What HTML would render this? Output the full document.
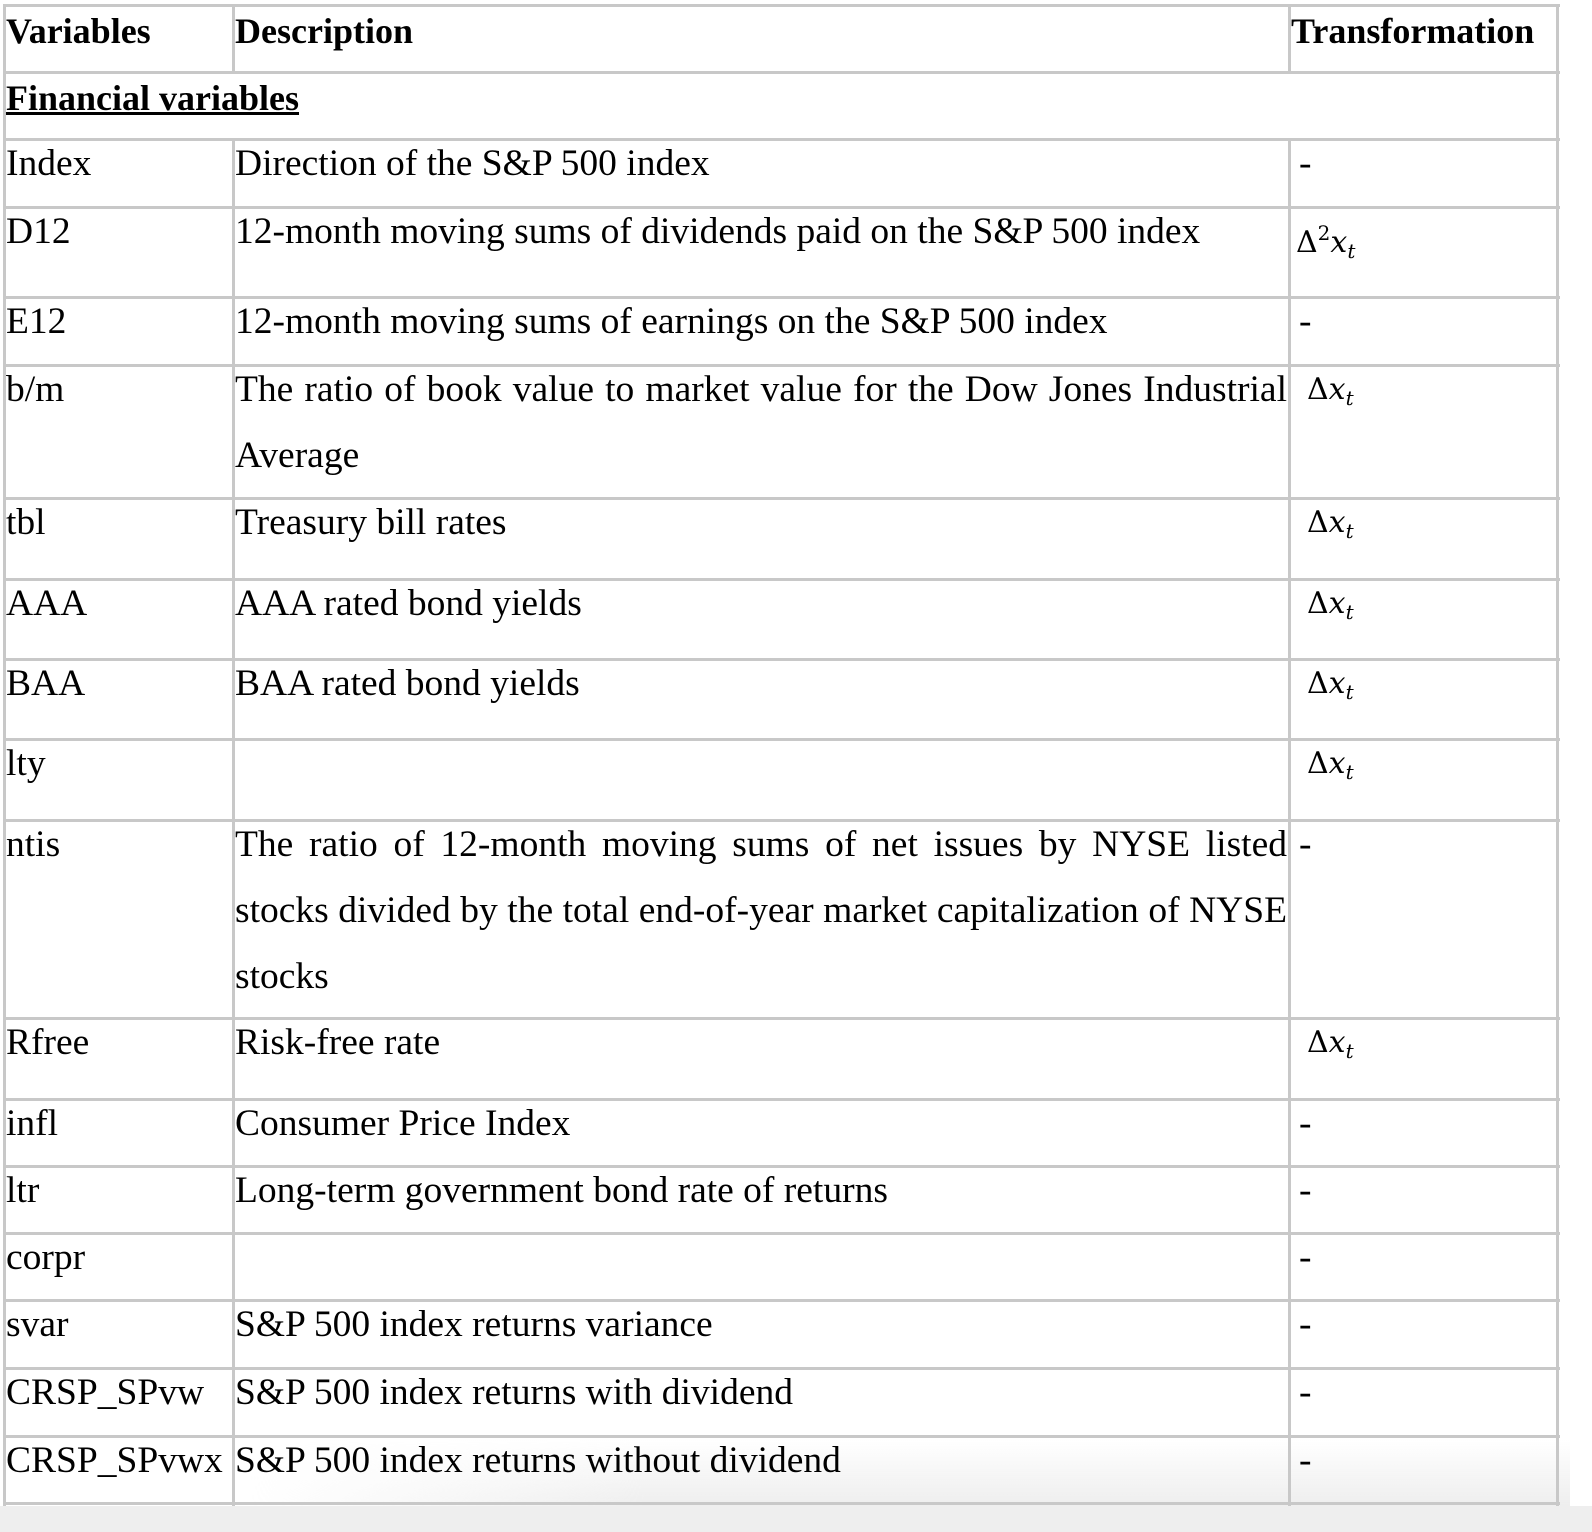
<!DOCTYPE html>
<html><head><meta charset="utf-8">
<style>
html,body{margin:0;padding:0;background:#fff;}
#page{position:relative;width:1592px;height:1532px;overflow:hidden;background:#fff;font-family:"Liberation Serif","Times New Roman",serif;color:#000;}
.h{position:absolute;height:3px;background:#c8c8c8;}
.v{position:absolute;width:3px;background:#c8c8c8;}
.t{position:absolute;font-size:37.5px;line-height:66px;white-space:nowrap;}
.b{font-weight:bold;font-size:36px;}
.jl{text-align:justify;text-align-last:justify;white-space:nowrap;}
.m{position:absolute;font-size:30px;line-height:40px;white-space:nowrap;font-family:"DejaVu Serif","Liberation Serif",serif;}
.m i{font-style:italic;}
.m sub{font-size:20px;vertical-align:-6px;font-style:italic;}
.m sup{font-size:20px;vertical-align:12px;}
.shade{position:absolute;left:0;top:1506px;width:1592px;height:26px;background:#eeeeee;}
.glow{position:absolute;left:250px;top:1440px;width:1320px;height:66px;background:linear-gradient(180deg,rgba(245,245,245,0),rgba(236,236,236,0.9));-webkit-mask-image:linear-gradient(90deg,transparent,#000 30%);mask-image:linear-gradient(90deg,transparent,#000 30%);}
</style></head>
<body>
<div id="page">
<div class="glow"></div>
<div class="shade"></div>
<div id="grid"></div>
<div id="cells"></div>
</div>
<script>
const rowsTop=[5,72,139,207,297,365,498,579,659,739,820,1018,1099,1166,1233,1300,1368,1436,1503];
const colX=[4,233,1289,1557];
const grid=document.getElementById('grid');
rowsTop.forEach((y,i)=>{
  const d=document.createElement('div');
  d.className='h';
  
  
  d.style.left='4px';d.style.width='1556px';d.style.top=(y-1)+'px';
  grid.appendChild(d);
});
colX.forEach((x,i)=>{
  const d=document.createElement('div');
  d.className='v';
  
  
  d.style.left=(x-1)+'px';d.style.top='4px';d.style.height='1502px';
  if(i===1||i===2){
    const d2=document.createElement('div');
    d2.className='v';
    
    
    d2.style.left=(x-1)+'px';d2.style.top='4px';d2.style.height='68px';
    grid.appendChild(d2);
    d.style.top='138px';d.style.height='1368px';
  }
  grid.appendChild(d);
});
const vars=["Index","D12","E12","b/m","tbl","AAA","BAA","lty","ntis","Rfree","infl","ltr","corpr","svar","CRSP_SPvw","CRSP_SPvwx"];
const descs=[["Direction of the S&P 500 index"],["12-month moving sums of dividends paid on the S&P 500 index"],["12-month moving sums of earnings on the S&P 500 index"],["The ratio of book value to market value for the Dow Jones Industrial","Average"],["Treasury bill rates"],["AAA rated bond yields"],["BAA rated bond yields"],[""],["The ratio of 12-month moving sums of net issues by NYSE listed","stocks divided by the total end-of-year market capitalization of NYSE","stocks"],["Risk-free rate"],["Consumer Price Index"],["Long-term government bond rate of returns"],[""],["S&P 500 index returns variance"],["S&P 500 index returns with dividend"],["S&P 500 index returns without dividend"]];
const trans=["-","d2","-","d","d","d","d","d","-","d","-","-","-","-","-","-"];
const cells=document.getElementById('cells');
function txt(cls,x,y,w,html,name){
  const e=document.createElement('div');
  e.className=cls;
  e.style.left=x+'px';e.style.top=y+'px';
  if(w)e.style.width=w+'px';
  e.innerHTML=html;
  
  
  cells.appendChild(e);
  return e;
}
txt('t b',6,-2,null,'Variables','header-variables');
txt('t b',235,-2,null,'Description','header-description');
txt('t b',1291,-2,null,'Transformation','header-transformation');
txt('t b',6,65,null,'<u>Financial variables</u>','section-financial-variables');
vars.forEach((v,i)=>{
  const top=rowsTop[i+2];
  txt('t',6,top-8,null,v,'variable-name');
  const lines=descs[i];
  lines.forEach((ln,k)=>{
    const dsc=ln.replace(/&/g,'&amp;');
    const last=(k===lines.length-1);
    const e=txt(last?'t':'t jl',235,top-8+k*66,last?null:1052,dsc,'variable-description');
    if(!last){
      // shrink word spacing if natural width exceeds cell
      e.style.wordSpacing='0px';
      const meas=document.createElement('span');
      meas.style.cssText='position:absolute;visibility:hidden;white-space:nowrap;font-size:37.5px;font-family:"Liberation Serif",serif;';
      meas.textContent=ln;
      document.body.appendChild(meas);
      const w=meas.getBoundingClientRect().width;
      meas.remove();
      if(w>1052){
        const spaces=(ln.match(/ /g)||[]).length;
        e.style.wordSpacing=(-(w-1052)/spaces-0.5)+'px';
      }
    }
  });
  if(trans[i]==='-'){
    txt('t',1299,top-8,null,'-','transformation-none');
  }else if(trans[i]==='d2'){
    txt('m',1296,top+6,null,'Δ<sup>2</sup><i>x</i><sub>t</sub>','transformation-second-difference');
  }else{
    txt('m',1307,top+5,null,'Δ<i>x</i><sub>t</sub>','transformation-first-difference');
  }
});
</script>
</body></html>
